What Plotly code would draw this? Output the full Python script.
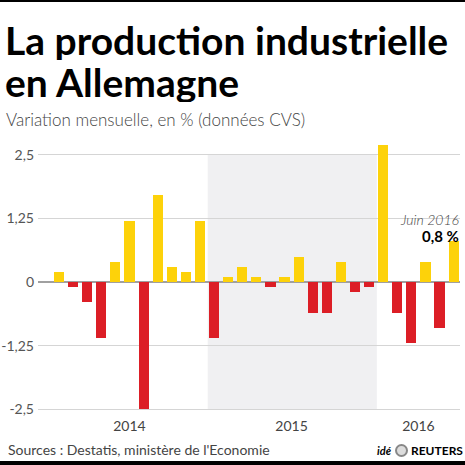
import plotly.graph_objects as go

months = ["2014-02", "2014-03", "2014-04", "2014-05", "2014-06", "2014-07", "2014-08",
          "2014-09", "2014-10", "2014-11", "2014-12",
          "2015-01", "2015-02", "2015-03", "2015-04", "2015-05", "2015-06", "2015-07",
          "2015-08", "2015-09", "2015-10", "2015-11", "2015-12",
          "2016-01", "2016-02", "2016-03", "2016-04", "2016-05", "2016-06"]
values = [0.2, -0.1, -0.4, -1.1, 0.4, 1.2, -2.5, 1.7, 0.3, 0.2, 1.2,
          -1.1, 0.1, 0.3, 0.1, -0.1, 0.1, 0.5, -0.6, -0.6, 0.4, -0.2, -0.1,
          2.7, -0.6, -1.2, 0.4, -0.9, 0.8]
tick_vals = [2.5, 1.25, 0, -1.25, -2.5]
tick_text = ["2,5", "1,25", "0", "-1,25", "-2,5"]
years = ["2014", "2015", "2016"]

YELLOW = "#FDD20A"
RED = "#DC1E26"

W = H = 465
L, R, T, B = 38, 5, 142, 53
PW, PH = W - L - R, H - T - B


def px(x):
    return (x - L) / PW


def py(y):
    return (H - B - y) / PH


idx = list(range(len(months)))
colors = [YELLOW if v >= 0 else RED for v in values]
year_pos = []
for y in years:
    ii = [i for i, m in enumerate(months) if m.startswith(y)]
    year_pos.append((ii[0] + ii[-1]) / 2)
i2015 = [i for i, m in enumerate(months) if m.startswith("2015")]

fig = go.Figure()
fig.add_trace(go.Bar(x=idx, y=values, marker=dict(color=colors, line=dict(width=0)),
                     width=0.72, hoverinfo="skip"))

fig.add_shape(type="rect", xref="x", yref="y", x0=i2015[0] - 0.45, x1=i2015[-1] + 0.55,
              y0=-2.5, y1=2.5, fillcolor="#F0F0F2", line=dict(width=0), layer="below")

fig.update_layout(
    width=W, height=H,
    margin=dict(l=L, r=R, t=T, b=B),
    paper_bgcolor="white", plot_bgcolor="white",
    showlegend=False,
    bargap=0,
    font=dict(family="Lato", color="#444"),
    xaxis=dict(range=[-1.49, 28.45], tickvals=year_pos, ticktext=years,
               showgrid=False, zeroline=False, showline=False, ticks="",
               automargin=False, ticklabelstandoff=4,
               tickfont=dict(size=14, color="#444", family="Lato")),
    yaxis=dict(range=[-2.55, 2.75], tickvals=tick_vals, ticktext=tick_text,
               showgrid=True, gridcolor="#D5D5D5", gridwidth=1,
               zeroline=True, zerolinecolor="#A0A0A0", zerolinewidth=2,
               showline=False, ticks="", ticklabelstandoff=3, automargin=False,
               tickfont=dict(size=14, color="#555", family="Lato")),
)

ann = [
    dict(text="<b>La production industrielle</b>", x=4, y=19, h=40,
         font=dict(size=39, color="black", family="Lato")),
    dict(text="<b>en Allemagne</b>", x=4, y=61, h=40,
         font=dict(size=39, color="black", family="Lato")),
    dict(text="Variation mensuelle, en % (données CVS)", x=5, y=108, h=None,
         font=dict(size=17, color="#444", family="Lato", weight=300)),
    dict(text="Sources : Destatis, ministère de l'Economie", x=7, y=440, h=None,
         font=dict(size=14, color="#444", family="Lato")),
]
for a in ann:
    fig.add_annotation(xref="paper", yref="paper", x=px(a["x"]), y=py(a["y"]),
                       xanchor="left", yanchor="top", showarrow=False, text=a["text"],
                       font=a["font"], align="left", borderpad=0, height=a["h"])

fig.add_annotation(xref="paper", yref="y", x=px(461), y=1.22, xanchor="right", yanchor="middle",
                   showarrow=False, text="<i>Juin 2016</i>",
                   font=dict(size=14, color="#444", family="Lato", weight=300))
fig.add_annotation(xref="paper", yref="y", x=px(461), y=0.90, xanchor="right", yanchor="middle",
                   showarrow=False, text="<b>0,8 %</b>",
                   font=dict(size=15, color="black", family="Lato"))

# Reuters credit
fig.add_annotation(xref="paper", yref="paper", x=px(394), y=py(450), xanchor="right",
                   yanchor="middle", showarrow=False, text="<b><i>idé</i></b>",
                   font=dict(size=11, color="black", family="Lato"))
fig.add_shape(type="circle", xref="paper", yref="paper", x0=px(396), x1=px(407),
              y0=py(456), y1=py(445), line=dict(color="#888", width=2),
              fillcolor="#DDD")
fig.add_annotation(xref="paper", yref="paper", x=px(409), y=py(450), xanchor="left",
                   yanchor="middle", showarrow=False, text="<b>REUTERS</b>",
                   font=dict(size=12, color="black", family="Lato"))

# black rules top and bottom
fig.add_shape(type="rect", xref="paper", yref="paper", x0=px(0), x1=px(W), y0=py(2), y1=py(0),
              fillcolor="black", line=dict(width=0))
fig.add_shape(type="rect", xref="paper", yref="paper", x0=px(0), x1=px(W), y0=py(H), y1=py(461),
              fillcolor="black", line=dict(width=0))

fig.write_html("out.html", config={"displayModeBar": False},
               post_script="document.body.style.margin='0';")
